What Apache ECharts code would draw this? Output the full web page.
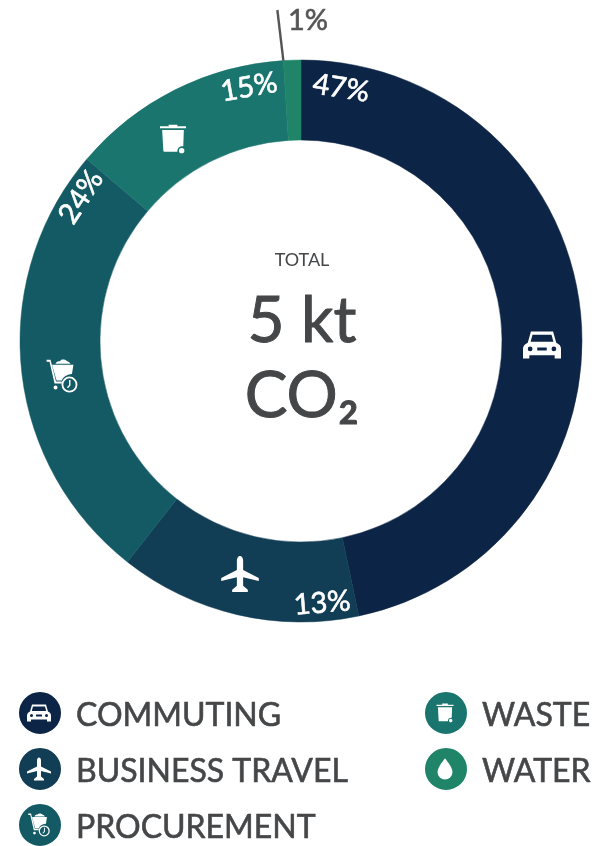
<!DOCTYPE html>
<html>
<head>
<meta charset="utf-8">
<style>
html,body{margin:0;padding:0;background:#fff;}
#chart{width:600px;height:846px;}
</style>
<script src="https://cdn.jsdelivr.net/npm/echarts@6/dist/echarts.min.js"></script>
</head>
<body>
<div id="chart"></div>
<script>
// slice sizes read from the ring, the printed labels do not add up to them exactly
var categories = ['COMMUTING', 'BUSINESS TRAVEL', 'PROCUREMENT', 'WASTE', 'WATER'];
var shares = [46.7, 13.9, 25.6, 12.8, 1.0];
var shareLabels = ['47%', '13%', '24%', '15%', '1%'];
var colors = ['#0c2445', '#113d55', '#145a64', '#1a756f', '#1f8468'];
var iconNames = ['car', 'plane', 'cart', 'bin', 'drop'];

var CX = 301, CY = 341, R_IN = 201, R_OUT = 281;
var TEXT_DARK = '#444648';
var FONT = 'Lato, Carlito, "Open Sans", sans-serif';

// deg clockwise from 12 o'clock, radius
var labelPolar = [[9, 256], [175.4, 263], [-56.8, 263], [-11.6, 259]];
var labelTilt = [9, -4.6, -56.8, -10];

var iconPaths = {
	car: 'M5 1H19L21 8C23 9 24 10 24 12V18H20V16H4V18H0V12C0 10 1 9 3 8Z' +
		'M6 3L4.8 7.5H19.2L18 3Z' +
		'M3 12a1.5 1.5 0 1 0 3 0a1.5 1.5 0 1 0 -3 0Z' +
		'M18 12a1.5 1.5 0 1 0 3 0a1.5 1.5 0 1 0 -3 0Z' +
		'M9 11V13H15V11Z',
	plane: 'M12 0C13 0 14 1 14 3V9L24 14V16L14 13.5V19L17 21.5V23H7V21.5L10 19V13.5L0 16V14L10 9V3C10 1 11 0 12 0Z',
	bin: 'M8 0H16V1.5H24V3.3H0V1.5H8Z' +
		'M2 5H22L21.5 20C19 19.5 16 21 16 25H4C3 25 3 24 3 23Z' +
		'M17.5 24a2.5 2.5 0 1 1 5 0a2.5 2.5 0 1 1 -5 0Z',
	cart: 'M0 0H4L9.5 22H15V24H8L3 2H0Z' +
		'M5.5 5H27L25.5 14.5C20 15 16 18 15.5 21H10Z' +
		'M9 4C10 1 13 2 14 1C15 -1 19 0 20 1C21 2 23 2 24 4Z' +
		'M7 28a2 2 0 1 1 4 0a2 2 0 1 1 -4 0Z' +
		'M15 25a8 8 0 1 1 16 0a8 8 0 1 1 -16 0Z' +
		'M16.8 25a6.2 6.2 0 1 0 12.4 0a6.2 6.2 0 1 0 -12.4 0Z' +
		'M22.6 20.5H24V26L21.5 28.8L20.5 27.8L22.6 25.4Z',
	drop: 'M12 0C12 0 22 11 22 18A10 10 0 0 1 2 18C2 11 12 0 12 0Z'
};

// x, y, width, height for each icon
var ringIconBoxes = [[542, 345, 38, 29], [240, 574, 38, 36], [62, 376, 33, 33], [173, 139, 26, 29]];
var legendIconBoxes = [[39, 713, 24, 18], [39, 769, 24, 23], [39, 825, 22, 23], [445, 713, 17, 19], [445, 769, 15, 21]];

function polar(deg, r)
{
	var a = deg * Math.PI / 180;
	return [CX + r * Math.sin(a), CY - r * Math.cos(a)];
}

// the Lato here has no medium cut, a thin outline thickens the regular one
function centerText(text, y, size, outline)
{
	return {
		type: 'text',
		z: 20,
		x: CX + 1,
		y: y,
		style: {
			text: text,
			fill: TEXT_DARK,
			stroke: TEXT_DARK,
			lineWidth: outline,
			font: size + 'px ' + FONT,
			align: 'center',
			verticalAlign: 'middle'
		}
	};
}

var graphics = [];

labelPolar.forEach(function(item, i){
	var p = polar(item[0], item[1]);
	graphics.push({
		type: 'text',
		z: 20,
		x: p[0],
		y: p[1],
		rotation: -labelTilt[i] * Math.PI / 180,
		style: {
			text: shareLabels[i],
			fill: '#fff',
			stroke: '#fff',
			lineWidth: 0.6,
			font: '29px ' + FONT,
			align: 'center',
			verticalAlign: 'middle'
		}
	});
});

// water slice is too thin for an inside label, leader line from its left edge
var waterEdge = 360 * (1 - shares[4] / 100);
var lineFoot = polar(waterEdge, R_OUT);
graphics.push({
	type: 'line',
	z: 20,
	silent: true,
	shape: { x1: lineFoot[0], y1: lineFoot[1], x2: lineFoot[0] - 6, y2: 10 },
	style: { stroke: '#555', lineWidth: 2.4 }
});
graphics.push({
	type: 'text',
	z: 20,
	x: 308,
	y: 21,
	style: {
		text: shareLabels[4],
		fill: '#555',
		stroke: '#555',
		lineWidth: 0.6,
		font: '29px ' + FONT,
		align: 'center',
		verticalAlign: 'middle'
	}
});

graphics.push(centerText('TOTAL', 260, 18, 0));
graphics.push(centerText('5 kt', 321, 64, 1));
graphics.push(centerText('CO\u2082', 396, 64, 1));

// ring icons first, then the legend ones
var iconItems = [];
ringIconBoxes.forEach(function(box, i){
	iconItems.push({ name: iconNames[i], box: box });
});
legendIconBoxes.forEach(function(box, i){
	iconItems.push({ name: iconNames[i], box: box });
});

function renderIcon(params)
{
	var item = iconItems[params.dataIndex];
	var box = item.box;
	return {
		type: 'path',
		silent: true,
		shape: {
			pathData: iconPaths[item.name],
			layout: 'center',
			x: box[0] - box[2] / 2,
			y: box[1] - box[3] / 2,
			width: box[2],
			height: box[3]
		},
		style: { fill: '#fff' }
	};
}

function legendBlock(names, left)
{
	return {
		orient: 'vertical',
		left: left,
		top: 692,
		height: 170,
		padding: 0,
		itemWidth: 40,
		itemHeight: 40,
		itemGap: 14,
		icon: 'circle',
		selectedMode: false,
		data: names,
		// rich token sits at the bottom of its line, drops the text level with the circle
		formatter: '{t|{name}}',
		textStyle: {
			rich: {
				t: {
					color: TEXT_DARK,
					fontFamily: FONT,
					fontSize: 32,
					lineHeight: 38,
					verticalAlign: 'bottom',
					textBorderColor: TEXT_DARK,
					textBorderWidth: 0.6,
					padding: [0, 0, 0, 11]
				}
			}
		}
	};
}

var option = {
	animation: false,
	color: colors,
	backgroundColor: '#fff',
	legend: [
		legendBlock(categories.slice(0, 3), 19),
		legendBlock(categories.slice(3), 425)
	],
	series: [{
		type: 'pie',
		center: [CX, CY],
		radius: [R_IN, R_OUT],
		startAngle: 90,
		clockwise: true,
		silent: true,
		label: { show: false },
		labelLine: { show: false },
		data: categories.map(function(name, i){
			return {
				name: name,
				value: shares[i],
				// same colour hairline, closes the white seam between slices
				itemStyle: { borderColor: colors[i], borderWidth: 0.5 }
			};
		})
	}, {
		type: 'custom',
		coordinateSystem: 'none',
		z: 20,
		silent: true,
		renderItem: renderIcon,
		data: iconItems.map(function(item, i){ return i; })
	}],
	graphic: { elements: graphics }
};

var myChart = echarts.init(document.getElementById('chart'));
myChart.setOption(option);
</script>
</body>
</html>
